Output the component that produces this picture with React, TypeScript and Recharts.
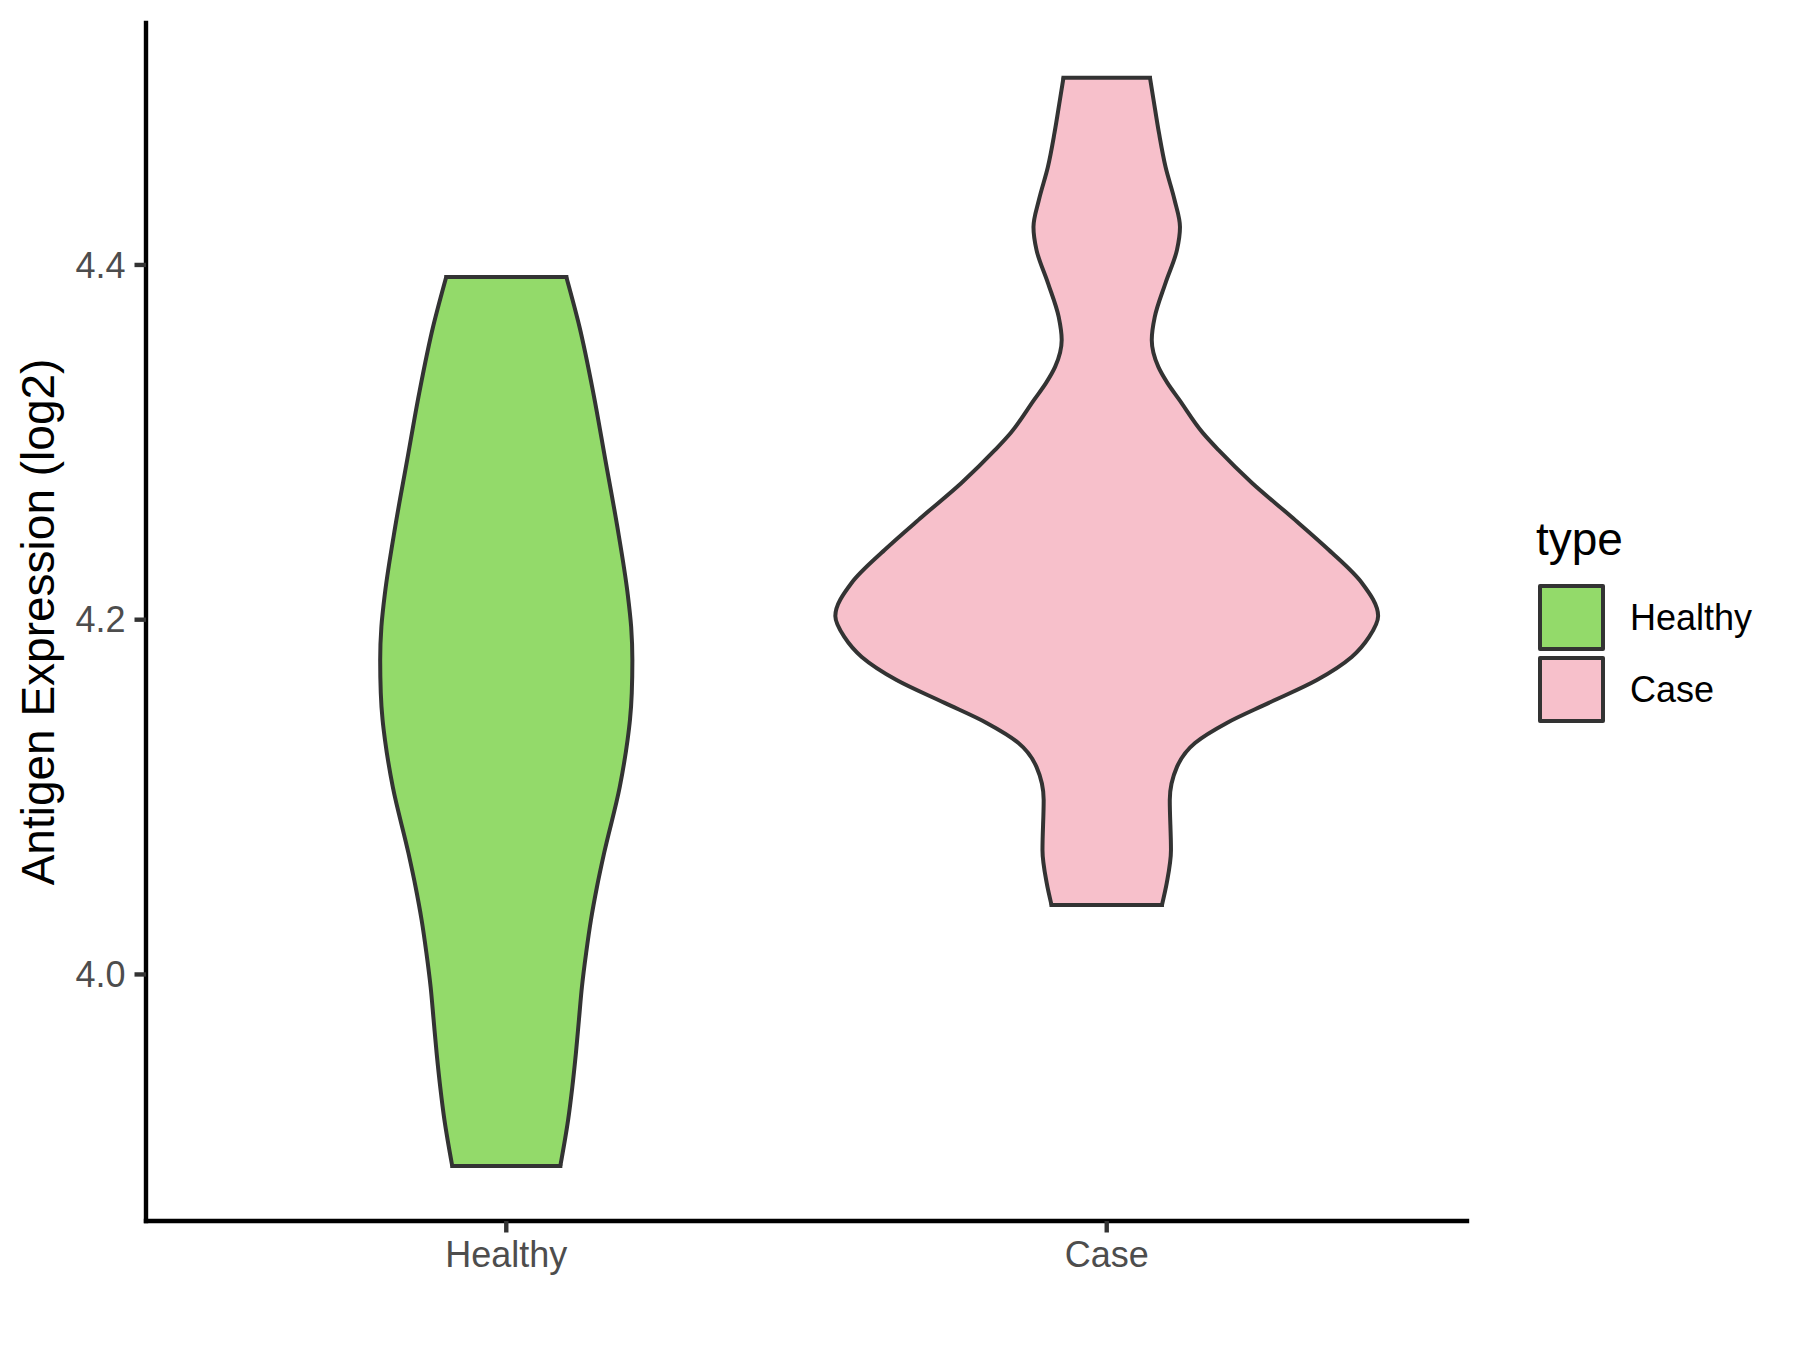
import React from "react";
import { ComposedChart, Area, XAxis, YAxis, ReferenceLine } from "recharts";

const categories = ["Healthy", "Case"];
const fills = ["#93DA6A", "#F7C0CB"];

// violin outlines: expression value and half width (in category units)
const healthyY = [
  4.3932, 4.365, 4.3278, 4.2901, 4.2523, 4.2151, 4.1959, 4.1773, 4.1587, 4.1435, 4.1322,
  4.1057, 4.0685, 4.0493, 4.0307, 4.0121, 3.993, 3.9744, 3.9557, 3.9366, 3.918, 3.892,
];
const healthyHalf = [
  0.1, 0.122, 0.145, 0.165, 0.185, 0.202, 0.208, 0.21, 0.209, 0.206, 0.202,
  0.189, 0.163, 0.151, 0.141, 0.133, 0.126, 0.121, 0.116, 0.11, 0.103, 0.09,
];

const caseY = [
  4.5056, 4.493, 4.4744, 4.4552, 4.4366, 4.4214, 4.4085, 4.3899, 4.3707, 4.3577, 4.3425,
  4.3335, 4.3239, 4.3053, 4.2957, 4.2771, 4.2579, 4.2393, 4.2207, 4.2021, 4.1903, 4.179,
  4.166, 4.1531, 4.1418, 4.1305, 4.117, 4.0984, 4.0702, 4.0516, 4.0392,
];
const caseHalf = [
  0.072, 0.078, 0.087, 0.098, 0.113, 0.122, 0.117, 0.098, 0.08, 0.075, 0.086,
  0.101, 0.121, 0.16, 0.186, 0.242, 0.308, 0.37, 0.425, 0.452, 0.437, 0.408,
  0.35, 0.27, 0.2, 0.147, 0.117, 0.105, 0.107, 0.1, 0.092,
];

const yTicks = [4.0, 4.2, 4.4];
const yDomain = [3.861, 4.5364];

const violins = [
  { name: categories[0], ys: healthyY, half: healthyHalf, center: 1, fill: fills[0] },
  { name: categories[1], ys: caseY, half: caseHalf, center: 2, fill: fills[1] },
].map((v) => ({
  ...v,
  rows: v.ys.map((y, i) => ({ y, range: [v.center - v.half[i], v.center + v.half[i]] })),
}));

const font = "'Liberation Sans', Arial, sans-serif";

function YTitle(props: any) {
  const vb = props.viewBox || { y: 0, height: 0 };
  const cy = vb.y + vb.height / 2;
  return (
    <text
      x={54}
      y={cy}
      transform={`rotate(-90, 54, ${cy})`}
      textAnchor="middle"
      fontSize={46}
      fill="#000"
    >
      Antigen Expression (log2)
    </text>
  );
}

export default function App() {
  return (
    <div
      style={{
        position: "absolute",
        left: 0,
        top: 0,
        width: 1800,
        height: 1350,
        background: "#fff",
        fontFamily: font,
      }}
    >
      <ComposedChart
        width={1800}
        height={1350}
        layout="vertical"
        margin={{ top: 23, right: 333, bottom: 0, left: 0 }}
      >
        <XAxis
          type="number"
          domain={[0.4, 2.6]}
          ticks={[1, 2]}
          allowDataOverflow
          tickFormatter={(v) => categories[v - 1]}
          height={129}
          tick={{ fill: "#4D4D4D", fontSize: 36 }}
          tickLine={{ stroke: "#333333", strokeWidth: 4.4 }}
          tickSize={11.5}
          tickMargin={9}
          axisLine={{ stroke: "#000", strokeWidth: 4.4, strokeLinecap: "square" }}
        />
        <YAxis
          type="number"
          dataKey="y"
          domain={yDomain}
          ticks={yTicks}
          reversed
          allowDataOverflow
          width={146}
          tickFormatter={(v) => v.toFixed(1)}
          tick={{ fill: "#4D4D4D", fontSize: 36 }}
          tickLine={{ stroke: "#333333", strokeWidth: 4.4 }}
          tickSize={11.5}
          tickMargin={9}
          axisLine={{ stroke: "#000", strokeWidth: 4.4, strokeLinecap: "square" }}
          label={{ value: "Antigen Expression (log2)", content: <YTitle /> }}
        />
        {violins.map((v) => (
          <Area
            key={v.name}
            data={v.rows}
            dataKey="range"
            name={v.name}
            type="monotone"
            fill={v.fill}
            fillOpacity={1}
            stroke="#333333"
            strokeWidth={4}
            dot={false}
            activeDot={false}
            isAnimationActive={false}
          />
        ))}
        {violins.flatMap((v) =>
          [0, v.ys.length - 1].map((i) => (
            <ReferenceLine
              key={`${v.name}-${i}`}
              segment={[
                { x: v.center - v.half[i], y: v.ys[i] },
                { x: v.center + v.half[i], y: v.ys[i] },
              ]}
              stroke="#333333"
              strokeWidth={4}
              strokeLinecap="square"
            />
          ))
        )}
      </ComposedChart>

      <div style={{ position: "absolute", left: 1536, top: 500, color: "#000" }}>
        <div style={{ position: "absolute", left: 0, top: 16, fontSize: 46, lineHeight: "46px", whiteSpace: "nowrap" }}>
          type
        </div>
        {categories.map((c, i) => (
          <div key={c}>
            <div
              style={{
                position: "absolute",
                left: 2,
                top: 84 + i * 72,
                width: 67,
                height: 67,
                boxSizing: "border-box",
                border: "4px solid #333333",
                borderRadius: 2,
                background: fills[i],
              }}
            />
            <div
              style={{
                position: "absolute",
                left: 94,
                top: 98 + i * 72,
                fontSize: 36,
                lineHeight: "40px",
                whiteSpace: "nowrap",
              }}
            >
              {c}
            </div>
          </div>
        ))}
      </div>
    </div>
  );
}
